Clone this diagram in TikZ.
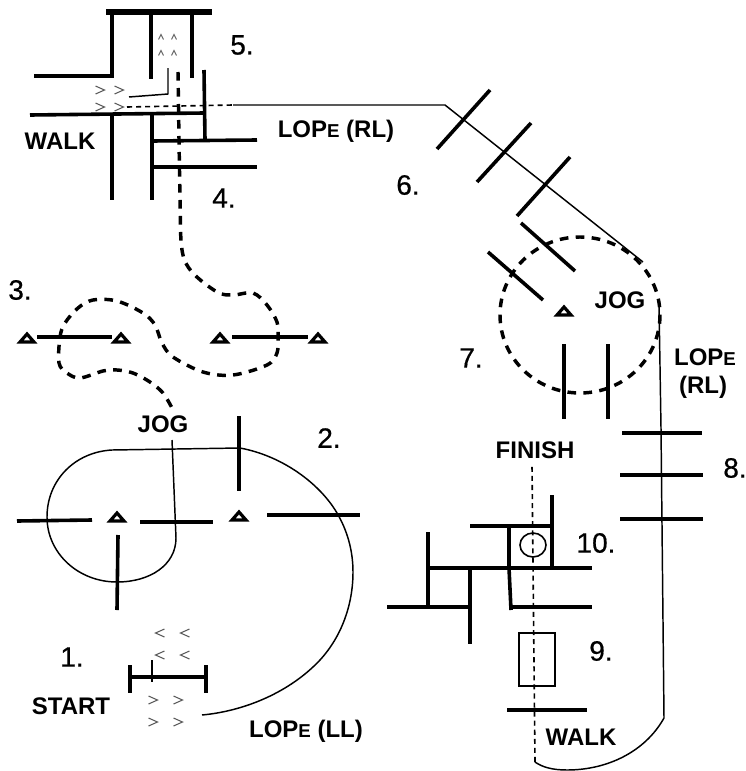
\documentclass[tikz,border=0pt]{standalone}
\usepackage{fontspec}
\setmainfont{Liberation Sans}
\newfontfamily\numfont[FakeBold=0.6]{Liberation Sans}
\newcommand{\smE}{{\fontsize{14}{14}\selectfont E}}
\tikzset{
  wall/.style={line width=2.7pt,line cap=butt},
  heavywall/.style={line width=4.4pt},
  route/.style={line width=1.1pt,line join=round},
  finedash/.style={line width=1.2pt,dash pattern=on 3.8pt off 3pt},
  jogdash/.style={line width=2.6pt,dash pattern=on 6.5pt off 5.5pt},
  lab/.style={font=\bfseries\fontsize{18}{20}\selectfont,inner sep=0pt,align=center},
  num/.style={font=\numfont\fontsize{21}{23}\selectfont,inner sep=0pt,text=black,draw=none},
  pics/cone/.style={code={\draw[line width=2.4pt,line join=miter,black] (-7,4)--(7,4)--(0,-4)--cycle;}},
  pics/chev/.style={code={\draw[line width=0.8pt,black!65] (-4.5,-4)--(4.5,0)--(-4.5,4);}},
  pics/tinychev/.style={code={\draw[line width=0.7pt,black!60] (-2.5,-2.5)--(2.5,0)--(-2.5,2.5);}}
}
\begin{document}
\begin{tikzpicture}[x=0.75pt,y=-0.75pt]
\useasboundingbox (0,0) rectangle (746,771);
% element 5 / 4
\draw[heavywall] (106,12)--(212,12);
\draw[wall] (34,76)--(112,76)--(112,12);
\draw[wall] (151,13)--(151,79);
\draw[wall] (192,13)--(192,78);
\draw[wall] (204,70)--(205,140);
\draw[wall] (30,115)--(204,113);
\draw[wall] (112,115)--(112,200);
\draw[wall] (152,113)--(152,200);
\draw[wall] (152,141)--(257,140);
\draw[wall] (152,167)--(257,167);
\draw[route] (129,97)--(168,94)--(168,68);
\draw[finedash] (127,107)--(233,105);
% lope (RL) route
\draw[route] (233,105)--(445,105)--(643,262);
\draw[route] (659,304)--(661,428)--(664,718)
  .. controls (645,752) and (607,770) .. (567,770)
  .. controls (552,770) and (542,767) .. (535,762);
\draw[finedash] (535,762)--(532,465);
% jog route through 4, 3
\draw[jogdash] plot[smooth,tension=0.55] coordinates {(178,72)(180,197)(182,250)(192,272)(217,292)(233,295)(253,293)(267,305)(277,322)(278,337)(277,353)(267,365)(233,375)(203,372)(173,357)(162,343)(155,325)(143,313)(117,301)(93,300)(78,308)(65,323)(60,337)(59,363)(67,373)(80,378)(103,371)(117,370)(133,373)(150,382)(163,393)(172,408)};
% element 3
\draw[wall] (37,337)--(112,337);
\draw[wall] (232,337)--(308,337);
\pic at (27,338) {cone};
\pic at (121,338) {cone};
\pic at (220,338) {cone};
\pic at (318,338) {cone};
% element 2
\draw[wall] (17,521)--(92,520);
\draw[wall] (140,522)--(213,522);
\draw[wall] (267,515)--(360,515);
\draw[wall] (239,416)--(239,491);
\draw[wall] (118,535)--(117,610);
\pic at (117,517) {cone};
\pic at (239,516) {cone};
% lope (LL) route
\draw[route] (202,715)
  .. controls (245,711) and (290,692) .. (320,660)
  .. controls (342,636) and (353,604) .. (353,572)
  .. controls (353,550) and (347,530) .. (337,513)
  .. controls (320,484) and (283,456) .. (240,448)
  -- (112,450)
  .. controls (75,452) and (47,480) .. (47,517)
  .. controls (47,553) and (78,582) .. (117,582)
  .. controls (150,582) and (176,565) .. (176,538)
  -- (172,440);
% element 1
\draw[wall] (130,677)--(206,677);
\draw[wall] (130,665)--(130,693);
\draw[wall] (206,665)--(206,693);
\draw[line width=2.2pt] (152,660)--(152,682);
\pic[rotate=180] at (160,633) {chev};
\pic[rotate=180] at (185,633) {chev};
\pic[rotate=180] at (160,655) {chev};
\pic[rotate=180] at (185,655) {chev};
\pic at (153,700) {chev};
\pic at (178,700) {chev};
\pic at (153,722) {chev};
\pic at (178,722) {chev};
\pic at (100,90) {chev};
\pic at (119,90) {chev};
\pic at (100,107) {chev};
\pic at (119,107) {chev};
\pic[rotate=90] at (161,37) {tinychev};
\pic[rotate=90] at (174,37) {tinychev};
\pic[rotate=90] at (161,53) {tinychev};
\pic[rotate=90] at (174,53) {tinychev};
% element 6
\draw[wall] (437,149)--(490,90);
\draw[wall] (477,182)--(531,123);
\draw[wall] (517,216)--(570,157);
% element 7
\draw[wall] (521,223)--(575,271);
\draw[wall] (488,252)--(543,300);
\draw[wall] (564,344)--(564,419);
\draw[wall] (608,344)--(608,419);
\pic at (564,311) {cone};
\draw[jogdash] (580,315) ellipse [x radius=80,y radius=78];
% element 8
\draw[wall] (622,433)--(702,433);
\draw[wall] (620,475)--(703,475);
\draw[wall] (620,519)--(703,519);
% element 10
\draw[wall] (552,495)--(552,568);
\draw[wall] (470,526)--(552,526);
\draw[wall] (509,526)--(509,568);
\draw[wall] (428,568)--(592,568);
\draw[wall] (428,532)--(428,607);
\draw[wall] (387,607)--(470,607);
\draw[wall] (470,568)--(470,644);
\draw[wall] (509,568)--(511,610);
\draw[wall] (511,607)--(592,607);
\draw[line width=1.2pt] (533,545) ellipse [x radius=13,y radius=12];
% element 9
\draw[line width=2.1pt] (519,633) rectangle (555,686);
\draw[wall] (507,710)--(587,710);
% labels
\node[num] (n1) at (72,657) {1.};
\node[num] (n2) at (329,438) {2.};
\node[num] (n3) at (20,290) {3.};
\node[num] (n4) at (224,198) {4.};
\node[num] (n5) at (242,45) {5.};
\node[num] (n6) at (408,185) {6.};
\node[num] (n7) at (471,358) {7.};
\node[num] (n8) at (735,468) {8.};
\node[num] (n9) at (601,651) {9.};
\node[num] (n10) at (596,543) {10.};
\node[lab] (walka) at (60,141) {WALK};
\node[lab] (lopea) at (336,131) {LOP\smE\ (RL)};
\node[lab] (joga) at (163,424) {JOG};
\node[lab] (start) at (71,706) {START};
\node[lab] (lopeb) at (306,731) {LOP\smE\ (LL)};
\node[lab] (jogb) at (620,300) {JOG};
\node[lab] (lopec) at (705,357) {LOP\smE};
\node[lab] (rl) at (703,387) {(RL)};
\node[lab] (finish) at (535,450) {FINISH};
\node[lab] (walkb) at (581,737) {WALK};
\end{tikzpicture}
\end{document}
